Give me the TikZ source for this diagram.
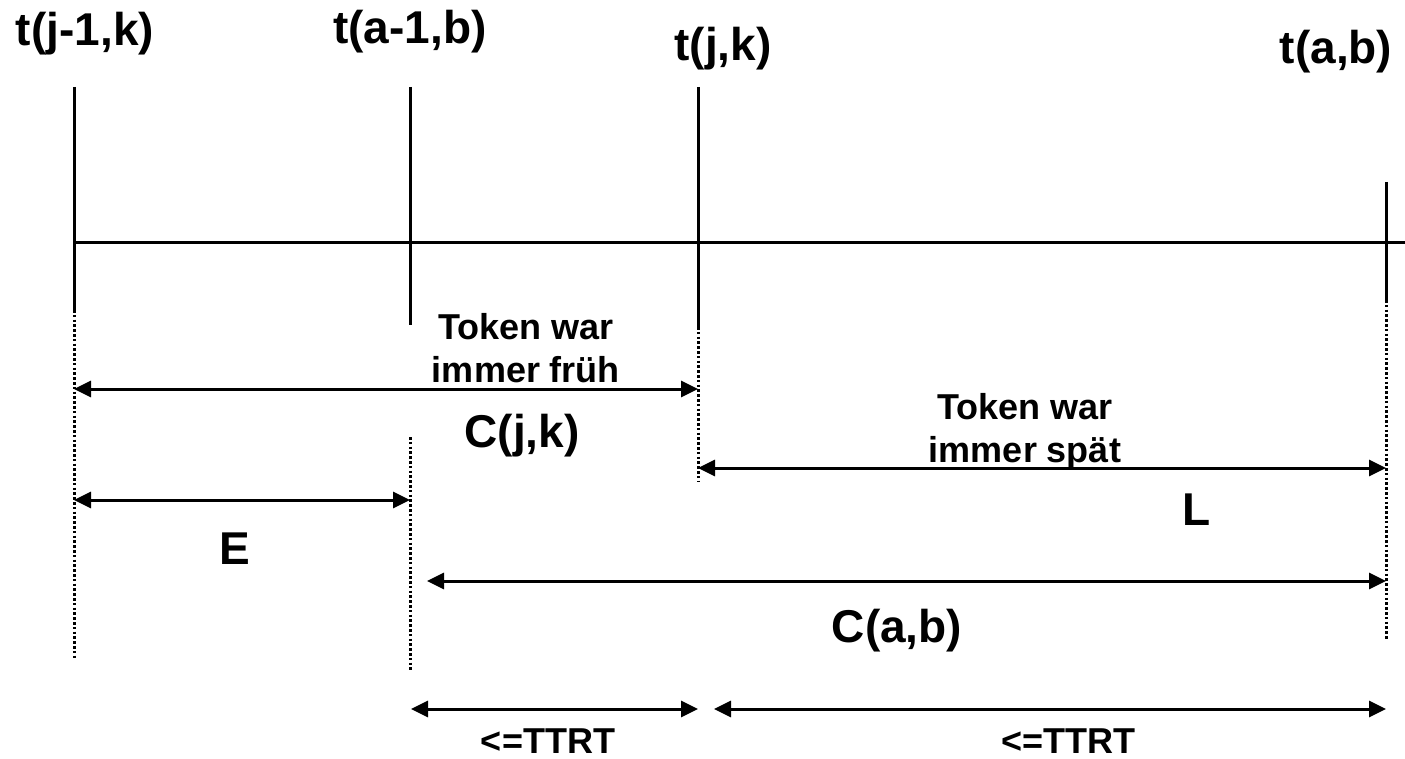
\documentclass[tikz,border=0pt]{standalone}
\usepackage{fontspec}
\setmainfont{Liberation Sans}
\usetikzlibrary{arrows.meta}

\newcommand\lblbig{\fontsize{46}{52}\selectfont\bfseries}
\newcommand\lblsmall{\fontsize{36}{43}\selectfont\bfseries}

\begin{document}
\begin{tikzpicture}[x=1pt,y=-1pt,
  tick/.style={line width=3pt},
  guide/.style={line width=3pt, dash pattern=on 2.6pt off 2.2pt},
  span/.style={line width=3pt, {Triangle[length=17pt,width=16pt]}-{Triangle[length=17pt,width=16pt]}},
  biglbl/.style={anchor=base, inner sep=0pt, font=\lblbig},
  smalllbl/.style={anchor=base, inner sep=0pt, font=\lblsmall, align=center}]
\useasboundingbox (0,0) rectangle (1405,759);

% time axis
\coordinate (axL) at (74,243);
\coordinate (axR) at (1405,243);
\draw[tick] (axL) -- (axR);

% event ticks: solid part above, dotted guide below
\coordinate (jm1top) at (74,87);   \coordinate (jm1mid) at (74,310);  \coordinate (jm1bot) at (74,658);
\coordinate (am1top) at (410,87);  \coordinate (am1mid) at (410,325);
\coordinate (am1gtop) at (410,437); \coordinate (am1bot) at (410,672);
\coordinate (jtop) at (698,87);    \coordinate (jmid) at (698,327);   \coordinate (jbot) at (698,482);
\coordinate (atop) at (1386,182);  \coordinate (amid) at (1386,300);  \coordinate (abot) at (1386,640);

\draw[tick] (jm1top) -- (jm1mid);
\draw[guide] (jm1mid) -- (jm1bot);
\draw[tick] (am1top) -- (am1mid);
\draw[guide] (am1gtop) -- (am1bot);
\draw[tick] (jtop) -- (jmid);
\draw[guide] (jmid) -- (jbot);
\draw[tick] (atop) -- (amid);
\draw[guide] (amid) -- (abot);

% event labels
\node[biglbl] (tjm1) at (85,46) {t(j-1,k)};
\node[biglbl] (tam1) at (410,44) {t(a-1,b)};
\node[biglbl] (tj) at (723,61) {t(j,k)};
\node[biglbl] (ta) at (1336,64) {t(a,b)};

% interval arrows
\coordinate (cjkL) at (74,389);  \coordinate (cjkR) at (698,389);
\coordinate (eL) at (74,500);    \coordinate (eR) at (410,500);
\coordinate (lL) at (698,468);   \coordinate (lR) at (1386,468);
\coordinate (cabL) at (427,581); \coordinate (cabR) at (1386,581);
\coordinate (t1L) at (411,709);  \coordinate (t1R) at (698,709);
\coordinate (t2L) at (714,709);  \coordinate (t2R) at (1386,709);

\draw[span] (cjkL) -- (cjkR);
\draw[span] (eL) -- (eR);
\draw[span] (lL) -- (lR);
\draw[span] (cabL) -- (cabR);
\draw[span] (t1L) -- (t1R);
\draw[span] (t2L) -- (t2R);

% interval labels (base anchor sits on the last line)
\node[smalllbl] (early) at (526,382) {Token war\\immer früh};
\node[biglbl] (cjk) at (522,447) {C(j,k)};
\node[smalllbl] (late) at (1025,462) {Token war\\immer spät};
\node[biglbl] (lbl) at (1197,525) {L};
\node[biglbl] (ebl) at (235,564) {E};
\node[biglbl] (cab) at (897,642) {C(a,b)};
\node[smalllbl] (ttrt1) at (548,753) {<=TTRT};
\node[smalllbl] (ttrt2) at (1068,753) {<=TTRT};
\end{tikzpicture}
\end{document}
